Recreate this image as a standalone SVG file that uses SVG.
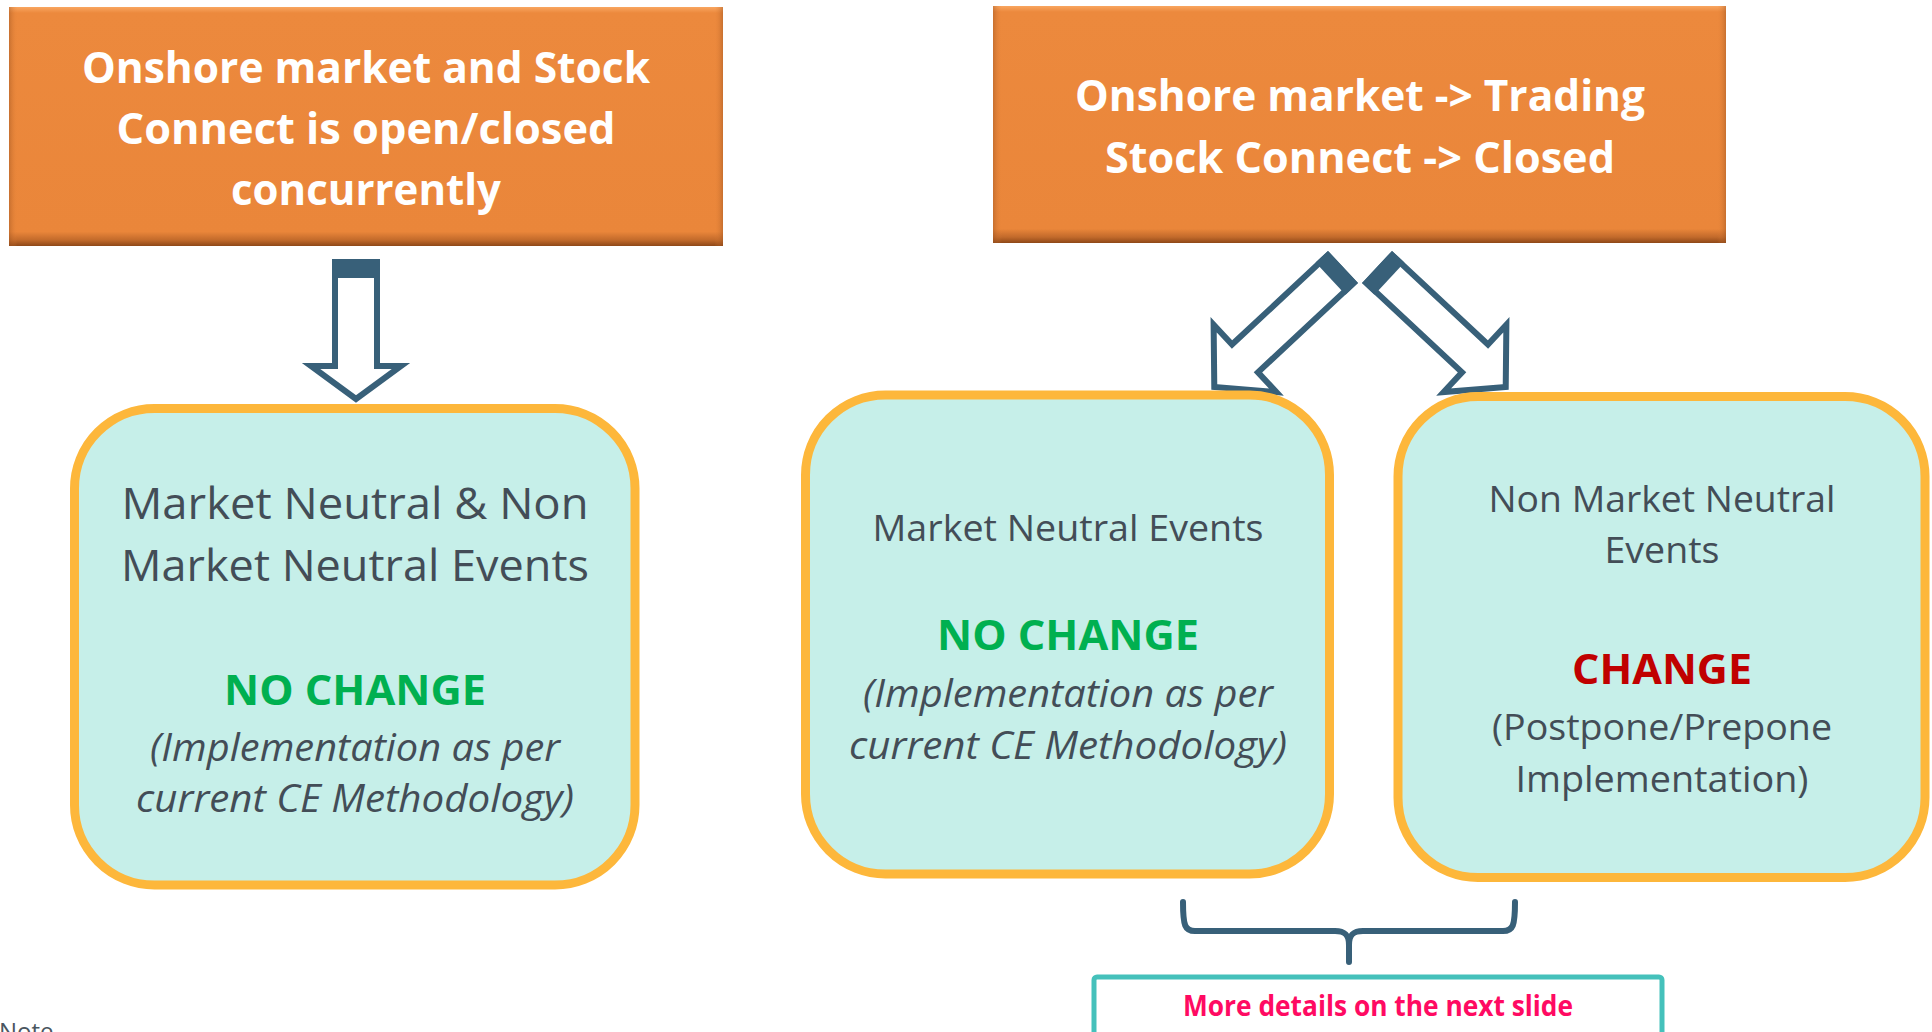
<svg xmlns="http://www.w3.org/2000/svg" width="1932" height="1032" viewBox="0 0 1932 1032">
  <defs>
    <!-- bevelled orange header fill -->
    <linearGradient id="bevelV" x1="0" y1="0" x2="0" y2="1">
      <stop offset="0" stop-color="#F9A660"/>
      <stop offset="0.025" stop-color="#EC893D"/>
      <stop offset="0.94" stop-color="#EA863A"/>
      <stop offset="0.975" stop-color="#C26A2B"/>
      <stop offset="1" stop-color="#8E4818"/>
    </linearGradient>
    <linearGradient id="bevelH" x1="0" y1="0" x2="1" y2="0">
      <stop offset="0" stop-color="#9A5220" stop-opacity="0.45"/>
      <stop offset="0.012" stop-color="#EA863A" stop-opacity="0"/>
      <stop offset="0.988" stop-color="#EA863A" stop-opacity="0"/>
      <stop offset="1" stop-color="#9A5220" stop-opacity="0.45"/>
    </linearGradient>
  </defs>
  <style>
    .hdr { font-family: "Open Sans", "Liberation Sans", sans-serif; font-weight: 700; font-size: 43px; fill: #FFFFFF; text-anchor: middle; }
    .txt { font-family: "Open Sans", "Liberation Sans", sans-serif; fill: #434D57; text-anchor: middle; }
    .it { font-style: italic; font-size: 38px; }
    .ok { font-family: "Open Sans", "Liberation Sans", sans-serif; font-weight: 700; font-size: 42px; fill: #00B050; text-anchor: middle; }
    .chg { font-family: "Open Sans", "Liberation Sans", sans-serif; font-weight: 700; font-size: 42px; fill: #C00000; text-anchor: middle; }
    .card { fill: #C6EFE9; stroke: #FDB73B; stroke-width: 9; }
    .arrow { fill: #FFFFFF; stroke: #386079; stroke-width: 6; stroke-linejoin: miter; }
    .band { fill: #386079; }
    .brace { fill: none; stroke: #386079; stroke-width: 6; stroke-linecap: round; stroke-linejoin: round; }
    .note { font-family: "Open Sans", "Liberation Sans", sans-serif; font-size: 24px; fill: #4A5560; }
  </style>

  <rect width="1932" height="1032" fill="#FFFFFF"/>

  <!-- block arrows and the grouping brace -->
  <g id="connectors">
    <g id="arrow-down">
      <polygon class="arrow" points="335,262 377,262 377,366 401,366 356,399 311,366 335,366"/>
      <rect class="band" x="332" y="259" width="48" height="19"/>
    </g>
    <g id="arrow-left" transform="translate(1343,267) rotate(47)">
      <polygon class="arrow" points="-19,3 19,3 19,134 46,134 0,176 -46,134 -19,134"/>
      <rect class="band" x="-22" y="0" width="44" height="17"/>
    </g>
    <g id="arrow-right" transform="translate(1377,267) rotate(-47)">
      <polygon class="arrow" points="-19,3 19,3 19,134 46,134 0,176 -46,134 -19,134"/>
      <rect class="band" x="-22" y="0" width="44" height="17"/>
    </g>
    <path id="brace" class="brace" d="M1183,902 C1183,926 1185,931 1195,931 H1335 C1345,931 1349,935 1349,945 V962 M1515,902 C1515,926 1513,931 1503,931 H1363 C1353,931 1349,935 1349,945"/>
  </g>

  <!-- header: concurrent open/close -->
  <g id="hdr-concurrent">
    <rect x="9" y="7" width="714" height="239" fill="url(#bevelV)"/>
    <rect x="9" y="7" width="714" height="239" fill="url(#bevelH)"/>
    <text class="hdr" x="366" y="83" textLength="568" lengthAdjust="spacingAndGlyphs">Onshore market and Stock</text>
    <text class="hdr" x="366" y="144" textLength="499" lengthAdjust="spacingAndGlyphs">Connect is open/closed</text>
    <text class="hdr" x="366" y="205" textLength="270" lengthAdjust="spacingAndGlyphs">concurrently</text>
  </g>

  <!-- header: onshore trading, connect closed -->
  <g id="hdr-split">
    <rect x="993" y="6" width="733" height="237" fill="url(#bevelV)"/>
    <rect x="993" y="6" width="733" height="237" fill="url(#bevelH)"/>
    <text class="hdr" x="1360" y="111" textLength="570" lengthAdjust="spacingAndGlyphs">Onshore market -&gt; Trading</text>
    <text class="hdr" x="1360" y="173" textLength="510" lengthAdjust="spacingAndGlyphs">Stock Connect -&gt; Closed</text>
  </g>

  <!-- outcome cards -->
  <g id="card-all-events">
    <rect class="card" x="74.5" y="408.5" width="560.5" height="476.5" rx="80" ry="80"/>
    <text class="txt" x="355" y="519" font-size="44" textLength="467" lengthAdjust="spacingAndGlyphs">Market Neutral &amp; Non</text>
    <text class="txt" x="355" y="581" font-size="44" textLength="468" lengthAdjust="spacingAndGlyphs">Market Neutral Events</text>
    <text class="ok" x="355" y="705" textLength="262" lengthAdjust="spacingAndGlyphs">NO CHANGE</text>
    <text class="txt it" x="355" y="761" textLength="410" lengthAdjust="spacingAndGlyphs">(Implementation as per</text>
    <text class="txt it" x="355" y="812" textLength="438" lengthAdjust="spacingAndGlyphs">current CE Methodology)</text>
  </g>

  <g id="card-neutral">
    <rect class="card" x="805.5" y="395" width="524" height="479" rx="80" ry="80"/>
    <text class="txt" x="1068" y="541" font-size="37" textLength="391" lengthAdjust="spacingAndGlyphs">Market Neutral Events</text>
    <text class="ok" x="1068" y="650" textLength="262" lengthAdjust="spacingAndGlyphs">NO CHANGE</text>
    <text class="txt it" x="1068" y="707" textLength="410" lengthAdjust="spacingAndGlyphs">(Implementation as per</text>
    <text class="txt it" x="1068" y="759" textLength="438" lengthAdjust="spacingAndGlyphs">current CE Methodology)</text>
  </g>

  <g id="card-non-neutral">
    <rect class="card" x="1398" y="396.5" width="527" height="481" rx="80" ry="80"/>
    <text class="txt" x="1662" y="512" font-size="37" textLength="347" lengthAdjust="spacingAndGlyphs">Non Market Neutral</text>
    <text class="txt" x="1662" y="563" font-size="37" textLength="115" lengthAdjust="spacingAndGlyphs">Events</text>
    <text class="chg" x="1662" y="684" textLength="180" lengthAdjust="spacingAndGlyphs">CHANGE</text>
    <text class="txt" x="1662" y="740" font-size="37" textLength="340" lengthAdjust="spacingAndGlyphs">(Postpone/Prepone</text>
    <text class="txt" x="1662" y="792" font-size="37" textLength="293" lengthAdjust="spacingAndGlyphs">Implementation)</text>
  </g>

  <!-- pointer to the follow-up slide -->
  <g id="more-details">
    <rect x="1094" y="977" width="568" height="90" rx="3" ry="3" fill="#FFFFFF" stroke="#45C1BB" stroke-width="5"/>
    <text x="1378" y="1016" font-family="'Open Sans', 'Liberation Sans', sans-serif" font-weight="700" font-size="29" fill="#FF0A62" text-anchor="middle" textLength="390" lengthAdjust="spacingAndGlyphs">More details on the next slide</text>
  </g>

  <text class="note" x="-1" y="1040">Note</text>
</svg>
